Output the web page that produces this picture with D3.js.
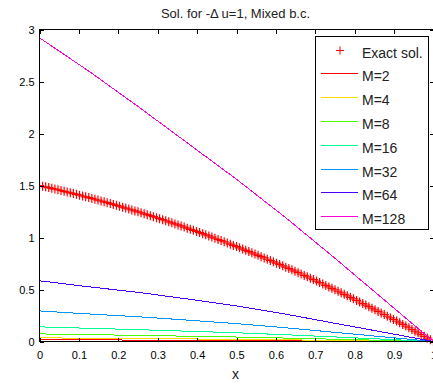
<!DOCTYPE html>
<html>
<head>
<meta charset="utf-8">
<script src="https://cdn.jsdelivr.net/npm/d3@7"></script>
<style>
  html, body { margin: 0; padding: 0; background: #fff; overflow: hidden; }
  svg { display: block; font-family: "Liberation Sans", Arial, sans-serif; }
</style>
</head>
<body>
<svg id="chart" width="433" height="385"></svg>
<script>
// ---- labels ----
const titleText = "Sol. for -\u0394 u=1, Mixed b.c.";
const xLabelText = "x";
const xTickValues = [0, 0.1, 0.2, 0.3, 0.4, 0.5, 0.6, 0.7, 0.8, 0.9, 1];
const xTickLabels = ["0", "0.1", "0.2", "0.3", "0.4", "0.5", "0.6", "0.7", "0.8", "0.9", "1"];
const yTickValues = [0, 0.5, 1, 1.5, 2, 2.5, 3];
const yTickLabels = ["0", "0.5", "1", "1.5", "2", "2.5", "3"];

// ---- exact solution, sampled on the fine grid x = i/128 ----
const exactValues = [
  1.500, 1.493, 1.487, 1.480, 1.473, 1.466, 1.459, 1.452, 1.444, 1.437,
  1.430, 1.422, 1.415, 1.407, 1.399, 1.391, 1.384, 1.376, 1.368, 1.360,
  1.351, 1.343, 1.335, 1.326, 1.318, 1.309, 1.301, 1.292, 1.283, 1.274,
  1.265, 1.256, 1.247, 1.238, 1.228, 1.219, 1.210, 1.200, 1.190, 1.181,
  1.171, 1.161, 1.151, 1.141, 1.131, 1.121, 1.111, 1.100, 1.090, 1.079,
  1.069, 1.058, 1.047, 1.037, 1.026, 1.015, 1.004, 0.993, 0.981, 0.970,
  0.959, 0.947, 0.936, 0.924, 0.913, 0.901, 0.889, 0.877, 0.865, 0.853,
  0.841, 0.829, 0.816, 0.804, 0.791, 0.779, 0.766, 0.753, 0.741, 0.728,
  0.715, 0.702, 0.689, 0.676, 0.662, 0.649, 0.635, 0.622, 0.608, 0.595,
  0.581, 0.567, 0.553, 0.539, 0.525, 0.511, 0.497, 0.483, 0.468, 0.454,
  0.439, 0.425, 0.410, 0.395, 0.380, 0.365, 0.350, 0.335, 0.320, 0.305,
  0.289, 0.274, 0.259, 0.243, 0.227, 0.212, 0.196, 0.180, 0.164, 0.148,
  0.132, 0.116, 0.099, 0.083, 0.067, 0.050, 0.033, 0.017, 0.000
];
const exactX = exactValues.map((_, i) => i / (exactValues.length - 1));

// ---- approximate solutions, one per mesh size ----
const meshX = [0, 0.125, 0.25, 0.375, 0.5, 0.625, 0.75, 0.875, 1];
const seriesNames = ["M=2", "M=4", "M=8", "M=16", "M=32", "M=64", "M=128"];
const seriesColors = ["#ff0000", "#ffdb00", "#49ff00", "#00ff92", "#0092ff", "#4900ff", "#ff00db"];
const valuesM2   = [0.017, 0.015, 0.014, 0.012, 0.010, 0.008, 0.005, 0.003, 0];
const valuesM4   = [0.035, 0.032, 0.028, 0.025, 0.020, 0.016, 0.011, 0.005, 0];
const valuesM8   = [0.073, 0.066, 0.059, 0.051, 0.043, 0.033, 0.022, 0.011, 0];
const valuesM16  = [0.141, 0.127, 0.114, 0.099, 0.084, 0.065, 0.044, 0.022, 0];
const valuesM32  = [0.294, 0.265, 0.238, 0.206, 0.172, 0.132, 0.088, 0.044, 0];
const valuesM64  = [0.584, 0.526, 0.473, 0.409, 0.342, 0.263, 0.175, 0.088, 0];
const valuesM128 = [2.920, 2.600, 2.260, 1.910, 1.560, 1.190, 0.800, 0.400, 0];
const seriesValues = [valuesM2, valuesM4, valuesM8, valuesM16, valuesM32, valuesM64, valuesM128];

// ---- layout ----
const svg = d3.select("#chart");
const plotLeft = 39.5, plotRight = 433.5, plotTop = 29.5, plotBottom = 341.5;

const x = d3.scaleLinear().domain([0, 1]).range([plotLeft, plotRight]);
const y = d3.scaleLinear().domain([0, 3]).range([plotBottom, plotTop]);

// title
svg.append("text")
  .attr("x", (plotLeft + plotRight) / 2 - 1)
  .attr("y", 18)
  .attr("text-anchor", "middle")
  .style("font-size", "13px")
  .attr("fill", "#222")
  .text(titleText);

// plotted data, clipped to the axes box
svg.append("defs").append("clipPath").attr("id", "plotClip")
  .append("rect").attr("x", plotLeft).attr("y", plotTop - 6)
  .attr("width", plotRight - plotLeft + 6).attr("height", plotBottom - plotTop + 12);

const plot = svg.append("g").attr("clip-path", "url(#plotClip)");

// exact solution as '+' markers
const plusSize = 4.5;
plot.append("g").selectAll("path")
  .data(exactValues)
  .join("path")
  .attr("d", (v, i) => {
    const px = x(exactX[i]), py = y(v);
    return `M${px - plusSize},${py}H${px + plusSize}M${px},${py - plusSize}V${py + plusSize}`;
  })
  .attr("stroke", "#ff0000")
  .attr("stroke-width", 1.2)
  .attr("fill", "none");

// approximate solutions
const line = d3.line().x((d) => x(d[0])).y((d) => y(d[1]));
seriesValues.forEach((vals, k) => {
  plot.append("path")
    .datum(vals.map((v, i) => [meshX[i], v]))
    .attr("d", line)
    .attr("fill", "none")
    .attr("stroke", seriesColors[k])
    .attr("stroke-width", 1)
    .attr("shape-rendering", "crispEdges");
});

// axes with inward ticks
const tickFont = "11px";
const xAxis = svg.append("g")
  .attr("transform", `translate(0,${plotBottom})`)
  .call(d3.axisBottom(x).tickValues(xTickValues).tickFormat((d, i) => xTickLabels[i]).tickSize(-4).tickPadding(10));
const yAxis = svg.append("g")
  .attr("transform", `translate(${plotLeft},0)`)
  .call(d3.axisLeft(y).tickValues(yTickValues).tickFormat((d, i) => yTickLabels[i]).tickSize(-4).tickPadding(5));
const xAxisTop = svg.append("g")
  .attr("transform", `translate(0,${plotTop})`)
  .call(d3.axisTop(x).tickValues(xTickValues).tickFormat("").tickSize(-4));
const yAxisRight = svg.append("g")
  .attr("transform", `translate(${plotRight},0)`)
  .call(d3.axisRight(y).tickValues(yTickValues).tickFormat("").tickSize(-4));

[xAxis, yAxis, xAxisTop, yAxisRight].forEach((g) => {
  g.select(".domain").remove();
  g.selectAll(".tick line").attr("stroke", "#000").attr("shape-rendering", "crispEdges");
  g.selectAll(".tick text").attr("fill", "#000").style("font-size", tickFont)
    .style("font-family", "\"Liberation Sans\", Arial, sans-serif");
});

// axes box
svg.append("rect")
  .attr("x", plotLeft).attr("y", plotTop)
  .attr("width", plotRight - plotLeft).attr("height", plotBottom - plotTop)
  .attr("fill", "none").attr("stroke", "#000").attr("stroke-width", 1)
  .attr("shape-rendering", "crispEdges");

// x label
svg.append("text")
  .attr("x", (plotLeft + plotRight) / 2 - 1)
  .attr("y", 379)
  .attr("text-anchor", "middle")
  .style("font-size", "14px")
  .attr("fill", "#222")
  .text(xLabelText);

// ---- legend ----
const legend = svg.append("g");
legend.append("rect")
  .attr("x", 315.5).attr("y", 36.5).attr("width", 113).attr("height", 193)
  .attr("fill", "#fff").attr("stroke", "#000").attr("stroke-width", 1)
  .attr("shape-rendering", "crispEdges");

const rowY = (i) => 57.5 + i * 23.8;
const exactRow = legend.append("g");
exactRow.append("path")
  .attr("d", `M${340 - 4},${rowY(0) - 7}H${340 + 4}M340,${rowY(0) - 7 - 4}V${rowY(0) - 7 + 4}`)
  .attr("stroke", "#ff0000").attr("fill", "none");
exactRow.append("text")
  .attr("x", 362).attr("y", rowY(0))
  .style("font-size", "14px").attr("fill", "#222")
  .text("Exact sol.");

seriesNames.forEach((name, k) => {
  const yy = rowY(k + 1);
  legend.append("line")
    .attr("x1", 321).attr("x2", 358)
    .attr("y1", Math.round(yy - 8) + 0.5).attr("y2", Math.round(yy - 8) + 0.5)
    .attr("stroke", seriesColors[k]).attr("stroke-width", 1)
    .attr("shape-rendering", "crispEdges");
  legend.append("text")
    .attr("x", 362).attr("y", yy)
    .style("font-size", "14px").attr("fill", "#222")
    .text(name);
});
</script>
</body>
</html>
